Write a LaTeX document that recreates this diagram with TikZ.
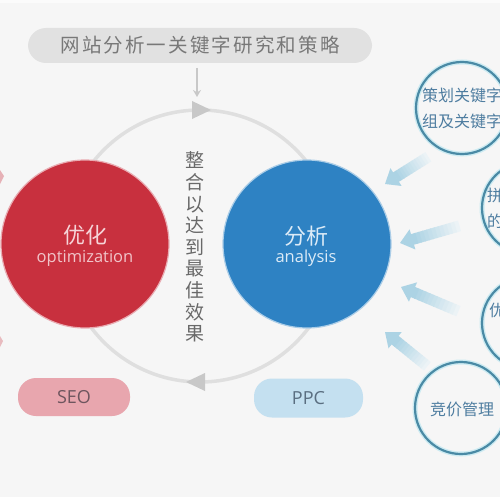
\documentclass[tikz,border=0pt]{standalone}
\usepackage{fontspec}
\setmainfont{Open Sans}
\newfontfamily\cjk{Noto Sans CJK SC}
\usetikzlibrary{arrows.meta,calc}
\definecolor{bgc}{RGB}{246,246,246}
\definecolor{pillc}{RGB}{225,225,225}
\definecolor{pilltext}{RGB}{120,120,120}
\definecolor{ringc}{RGB}{223,223,223}
\definecolor{trig}{RGB}{200,200,200}
\definecolor{redc}{RGB}{200,48,62}
\definecolor{redtext}{RGB}{246,212,216}
\definecolor{bluec}{RGB}{46,130,195}
\definecolor{bluetext}{RGB}{220,235,247}
\definecolor{seoc}{RGB}{232,166,174}
\definecolor{seotext}{RGB}{110,85,94}
\definecolor{ppcc}{RGB}{196,224,240}
\definecolor{ppctext}{RGB}{90,110,128}
\definecolor{rimc}{RGB}{74,138,165}
\definecolor{rimglow}{RGB}{205,235,242}
\definecolor{rimtext}{RGB}{78,125,160}
\definecolor{vtext}{RGB}{105,105,105}
\definecolor{arrtip}{RGB}{172,211,228}
\definecolor{arrtail}{RGB}{236,243,246}
\tikzset{
  bigcirc/.style={circle, minimum size=#1, inner sep=0pt},
  pillbox/.style={rounded corners=18, inner sep=0pt, font=\fontsize{18}{20}\selectfont},
  rimcirc/.style={circle, minimum size=92, inner sep=0pt, draw=rimc, line width=2.2,
     preaction={draw=rimglow, line width=5}},
  rimtxt/.style={text=rimtext, font=\cjk\fontsize{16}{26}\selectfont, align=center},
}
\newcommand{\fadearrow}[2]{% tail, tip
  \coordinate (hb) at ($(#2)!13pt!(#1)$);
  \foreach \i in {0,...,11}{
    \pgfmathtruncatemacro{\pc}{100*\i/11}
    \draw[line width=11, color=arrtip!\pc!arrtail]
      ($(#1)!{\i/12-0.01}!(hb)$) -- ($(#1)!{(\i+1)/12+0.01}!(hb)$);
  }
  \fill[arrtip] ($(hb)!10.5pt!90:(#2)$) -- (#2) -- ($(hb)!10.5pt!-90:(#2)$) -- cycle;
}
\begin{document}
\begin{tikzpicture}[x=1pt,y=-1pt]
\useasboundingbox (0,0) rectangle (500,500);
\clip (0,0) rectangle (500,500);
\fill[bgc] (0,0) rectangle (500,500);
\fill[white] (0,497) rectangle (500,500);
\fill[white!60!bgc] (0,0) rectangle (500,3);

% top pill
\node[pillbox, fill=pillc, minimum width=344, minimum height=35, text=pilltext,
  font=\cjk\fontsize{19.5}{22}\selectfont\addfontfeature{LetterSpace=11}] (top) at (200,45.5) {网站分析一关键字研究和策略};
\coordinate (dnA) at (197,68);
\coordinate (dnB) at (197,97);
\draw[trig, line width=2, -{Stealth[length=7,width=8]}] (dnA) -- (dnB);

% ring
\coordinate (rc) at (200,246);
\draw[ringc, line width=3.5] (rc) circle (136);
\fill[trig] (192,101) -- (211,110) -- (192,119) -- cycle;
\fill[trig] (205,373) -- (186,382) -- (205,391) -- cycle;

% left partial marks
\fill[redc!35!bgc] (0,170) -- (4,176) -- (0,184) -- cycle;
\fill[redc!30!bgc] (0,336) -- (3,341) -- (0,347) -- cycle;

% main circles
\node[bigcirc=168, fill=redc, draw=redc!40!white, line width=1.2] (opt) at (85,244) {};
\node[text=redtext, font=\cjk\fontsize{22}{24}\selectfont] (optz) at (85,235) {优化};
\node[text=redtext!90!redc, font=\fontsize{16.5}{18}\selectfont] (opte) at (85,258) {optimization};

\node[bigcirc=168, fill=bluec, draw=bluec!40!white, line width=1.2] (ana) at (307,244) {};
\node[text=bluetext, font=\cjk\fontsize{22}{24}\selectfont] (anaz) at (306,236) {分析};
\node[text=bluetext, font=\fontsize{16.5}{18}\selectfont] (anae) at (306,258) {analysis};

% vertical text
\node[text=vtext, font=\cjk\fontsize{19}{21.6}\selectfont, align=center, inner sep=0pt] (vt) at (195,247)
  {整\\合\\以\\达\\到\\最\\佳\\效\\果};

% pills
\node[pillbox, fill=seoc, minimum width=112, minimum height=38, text=seotext] (seo) at (74,397) {SEO};
\node[pillbox, fill=ppcc, minimum width=109, minimum height=39, text=ppctext] (ppc) at (308.5,398) {PPC};

% right circles
\node[rimcirc] (r1) at (462,108) {};
\node[rimtxt] (r1t) at (462,108) {策划关键字\\组及关键字};
\node[rimcirc] (r2) at (528,208) {};
\node[rimtxt, anchor=west, inner sep=0pt] (r2t) at (487,208) {拼\\的};
\node[rimcirc] (r3) at (528,323) {};
\node[rimtxt, anchor=west, inner sep=0pt] (r3t) at (489,310) {优};
\node[rimcirc] (r4) at (461,408) {};
\node[rimtxt] (r4t) at (462,409) {竞价管理};

% fading arrows
\coordinate (a1s) at (428,157); \coordinate (a1e) at (385,184);
\coordinate (a2s) at (459,226); \coordinate (a2e) at (400,243);
\coordinate (a3s) at (458,311); \coordinate (a3e) at (401,287);
\coordinate (a4s) at (427,366); \coordinate (a4e) at (385,332);
\fadearrow{a1s}{a1e}
\fadearrow{a2s}{a2e}
\fadearrow{a3s}{a3e}
\fadearrow{a4s}{a4e}
\end{tikzpicture}
\end{document}
